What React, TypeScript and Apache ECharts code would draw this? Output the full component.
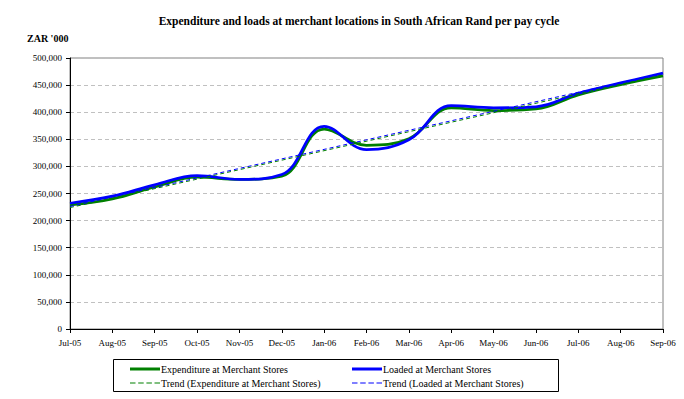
import React, { useEffect, useRef } from "react";
import * as echarts from "echarts";

const months = [
  "Jul-05", "Aug-05", "Sep-05", "Oct-05", "Nov-05", "Dec-05", "Jan-06", "Feb-06",
  "Mar-06", "Apr-06", "May-06", "Jun-06", "Jul-06", "Aug-06", "Sep-06",
];
// ZAR '000
const expenditure = [229, 240, 262, 280, 276, 282, 369, 339, 351, 408, 403, 406, 432, 451, 467];
const loaded = [232, 245, 266, 283, 276, 285, 374, 331, 349, 412, 408, 410, 435, 454, 472];
const trendExpenditure = [224, null, null, null, null, null, null, null, null, null, null, null, null, null, 469];
const trendLoaded = [226, null, null, null, null, null, null, null, null, null, null, null, null, null, 472];
const yTicks = [0, 50000, 100000, 150000, 200000, 250000, 300000, 350000, 400000, 450000, 500000];

const FONT = "'Liberation Serif', 'Times New Roman', serif";
const GREEN = "#008000";
const BLUE = "#0000ff";

const SOLID_ICON = "path://M0,0h30v3h-30z";
const DASH_ICON = "path://M0,0h5.5v1h-5.5z M8.2,0h5.5v1h-5.5z M16.4,0h5.5v1h-5.5z M24.5,0h5.5v1h-5.5z";

const toRand = (arr: (number | null)[]) => arr.map((v) => (v == null ? null : v * 1000));

const legendItem = (name: string, left: number, top: number, solid: boolean) => ({
  orient: "horizontal",
  left,
  top,
  padding: 0,
  itemWidth: 30,
  itemHeight: solid ? 3 : 1,
  icon: solid ? SOLID_ICON : DASH_ICON,
  data: [name],
  textStyle: { fontFamily: FONT, fontSize: 10, color: "#000", padding: [0, 0, 0, -4] },
});

export default function App() {
  const ref = useRef<HTMLDivElement>(null);
  useEffect(() => {
    if (!ref.current) return;
    const chart = echarts.init(ref.current, undefined, { renderer: "svg" });
    chart.setOption({
      animation: false,
      backgroundColor: "#ffffff",
      textStyle: { fontFamily: FONT },
      title: {
        text: "Expenditure and loads at merchant locations in South African Rand per pay cycle",
        left: 354,
        top: 10,
        textAlign: "center",
        textStyle: { fontFamily: FONT, fontSize: 11.5, fontWeight: "bold", color: "#000" },
      },
      graphic: [
        {
          type: "text",
          left: 27,
          top: 33,
          style: { text: "ZAR '000", font: `bold 10px ${FONT}`, fill: "#000" },
        },
        {
          type: "rect",
          shape: { x: 113.5, y: 359.5, width: 445, height: 32 },
          style: { fill: "none", stroke: "#000", lineWidth: 1 },
          z: 0,
        },
      ],
      grid: {
        left: 70,
        right: 21,
        top: 58,
        bottom: 70,
        show: true,
        borderColor: "#808080",
        borderWidth: 1,
        backgroundColor: "#ffffff",
      },
      legend: [
        legendItem("Expenditure at Merchant Stores", 130, 364, true),
        legendItem("Trend (Expenditure at Merchant Stores)", 130, 378, false),
        legendItem("Loaded at Merchant Stores", 352, 364, true),
        legendItem("Trend (Loaded at Merchant Stores)", 352, 378, false),
      ],
      xAxis: {
        type: "category",
        data: months,
        boundaryGap: false,
        axisLine: { show: true, lineStyle: { color: "#000", width: 1 } },
        axisTick: { show: true, length: 4, lineStyle: { color: "#000" }, alignWithLabel: true },
        axisLabel: { fontFamily: FONT, fontSize: 9, color: "#000", margin: 9, interval: 0 },
        splitLine: { show: false },
      },
      yAxis: {
        type: "value",
        min: 0,
        max: 500000,
        interval: 50000,
        axisLine: { show: true, lineStyle: { color: "#000", width: 1 } },
        axisTick: { show: true, length: 4, lineStyle: { color: "#000" } },
        axisLabel: {
          fontFamily: FONT,
          fontSize: 9,
          color: "#000",
          margin: 8,
          formatter: (v: number) => (yTicks.includes(v) ? v.toLocaleString("en-US") : ""),
        },
        splitLine: { show: true, lineStyle: { color: "#c0c0c0", type: [4, 3], width: 1 } },
      },
      series: [
        {
          name: "Expenditure at Merchant Stores",
          type: "line",
          data: toRand(expenditure),
          smooth: 0.4,
          symbol: "none",
          lineStyle: { color: GREEN, width: 2.75 },
          itemStyle: { color: GREEN },
          z: 3,
        },
        {
          name: "Loaded at Merchant Stores",
          type: "line",
          data: toRand(loaded),
          smooth: 0.4,
          symbol: "none",
          lineStyle: { color: BLUE, width: 2.75 },
          itemStyle: { color: BLUE },
          z: 4,
        },
        {
          name: "Trend (Expenditure at Merchant Stores)",
          type: "line",
          data: toRand(trendExpenditure),
          connectNulls: true,
          symbol: "none",
          lineStyle: { color: GREEN, width: 1, type: [4, 3] },
          itemStyle: { color: GREEN },
          z: 5,
        },
        {
          name: "Trend (Loaded at Merchant Stores)",
          type: "line",
          data: toRand(trendLoaded),
          connectNulls: true,
          symbol: "none",
          lineStyle: { color: BLUE, width: 1, type: [4, 3] },
          itemStyle: { color: BLUE },
          z: 5,
        },
      ],
    });
    return () => chart.dispose();
  }, []);
  return (
    <div
      ref={ref}
      style={{ position: "fixed", left: 0, top: 0, width: 684, height: 399, background: "#fff" }}
    />
  );
}
